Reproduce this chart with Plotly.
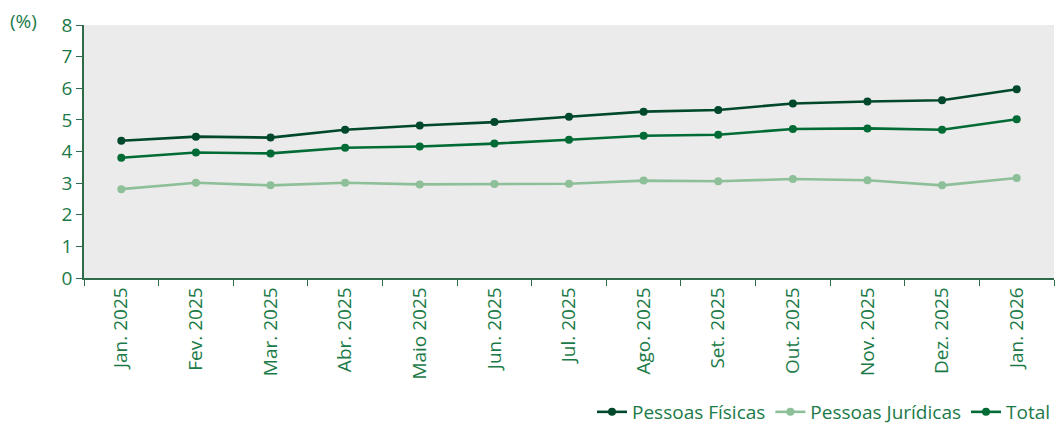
import plotly.graph_objects as go

months = ["Jan. 2025", "Fev. 2025", "Mar. 2025", "Abr. 2025", "Maio 2025", "Jun. 2025",
          "Jul. 2025", "Ago. 2025", "Set. 2025", "Out. 2025", "Nov. 2025", "Dez. 2025", "Jan. 2026"]
pessoas_fisicas = [4.34, 4.47, 4.44, 4.69, 4.82, 4.93, 5.10, 5.26, 5.31, 5.52, 5.58, 5.62, 5.97]
pessoas_juridicas = [2.81, 3.01, 2.93, 3.01, 2.96, 2.97, 2.98, 3.08, 3.06, 3.13, 3.09, 2.93, 3.16]
total = [3.80, 3.97, 3.94, 4.12, 4.16, 4.25, 4.37, 4.50, 4.53, 4.71, 4.73, 4.69, 5.02]

TXT = "#1B7A47"
AX = "#2E6B4A"

fig = go.Figure()
series = [("Pessoas Físicas", pessoas_fisicas, "#00482B"),
          ("Pessoas Jurídicas", pessoas_juridicas, "#8DBF98"),
          ("Total", total, "#006B35")]
for name, vals, col in series:
    fig.add_trace(go.Scatter(x=months, y=vals, name=name, mode="lines+markers",
                             line=dict(color=col, width=2.6),
                             marker=dict(color=col, size=8)))

fig.update_layout(
    width=1056, height=431,
    margin=dict(l=84, r=2, t=25, b=153, autoexpand=False),
    paper_bgcolor="white", plot_bgcolor="#EBEBEB",
    font=dict(family="Open Sans", color=TXT, size=18),
    showlegend=True,
    legend=dict(orientation="h", xref="container", yref="container",
                x=1.0, xanchor="right", y=0.0, yanchor="bottom",
                font=dict(size=19, color=TXT), itemwidth=30, tracegroupgap=0,
                traceorder="normal", bgcolor="rgba(0,0,0,0)"),
    xaxis=dict(type="category", range=[-0.5, 12.5], tickangle=-90, automargin=False,
               ticks="outside", tickson="boundaries", ticklen=6, tickcolor=AX,
               showline=True, linecolor=AX, linewidth=1.5, showgrid=False,
               tickfont=dict(size=19, color=TXT)),
    yaxis=dict(range=[0, 8], dtick=1, ticks="outside", ticklen=6, tickcolor=AX,
               automargin=False,
               showline=True, linecolor=AX, linewidth=1.5, showgrid=False,
               zeroline=False, tickfont=dict(size=19, color=TXT)),
    annotations=[dict(text="(%)", xref="paper", yref="paper",
                      x=(8 - 84) / (1056 - 84 - 2), y=(278 - 21) / 253,
                      xanchor="left", yanchor="middle", showarrow=False,
                      font=dict(size=19, color=TXT))]
)

fig.write_html("out.html", config={"displayModeBar": False},
               post_script="document.body.style.margin='0';document.body.style.overflow='hidden';")
